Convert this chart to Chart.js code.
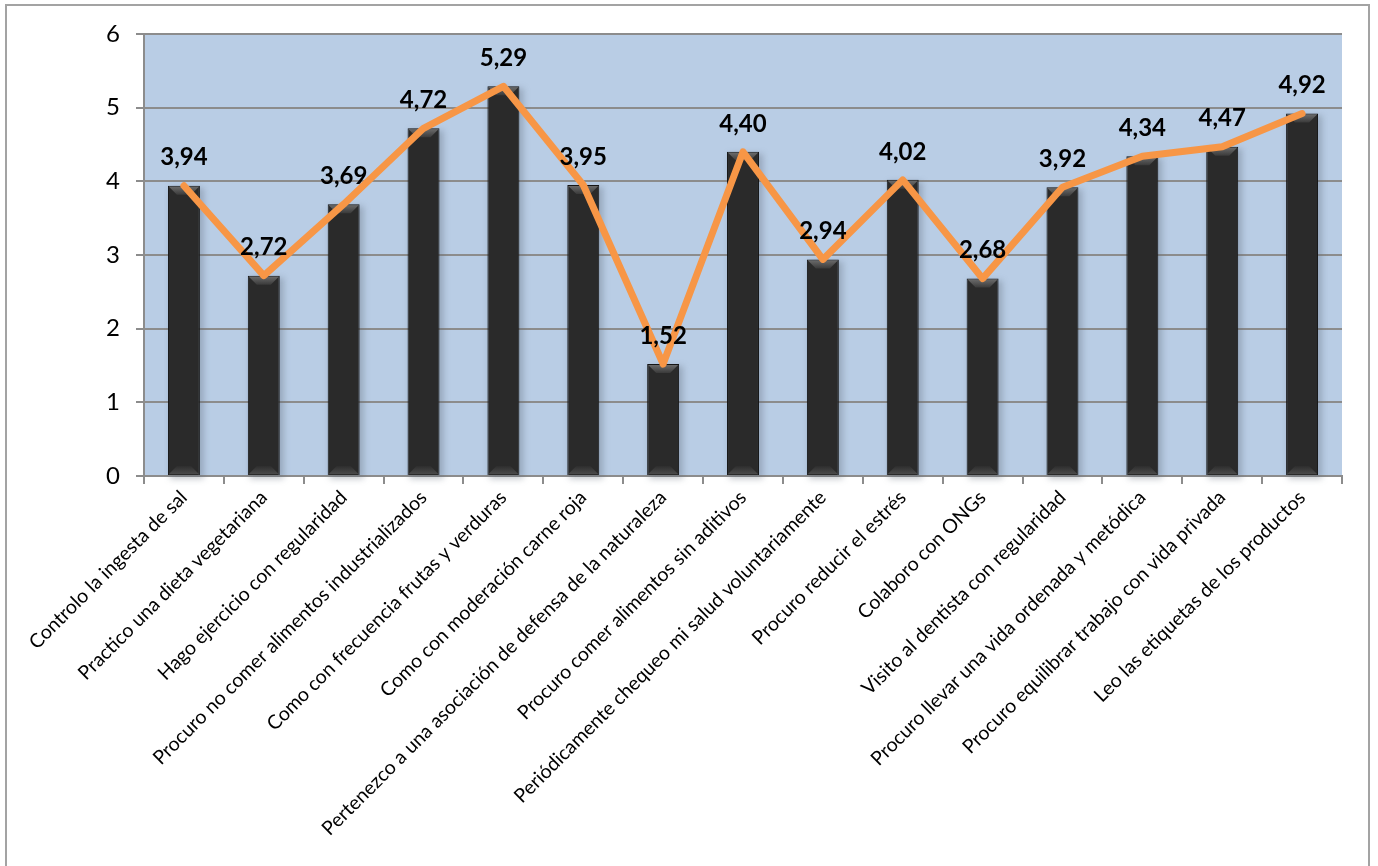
<!DOCTYPE html>
<html>
<head>
<meta charset="utf-8">
<script src="https://cdn.jsdelivr.net/npm/chart.js@4/dist/chart.umd.min.js"></script>
<style>
  html, body { margin: 0; padding: 0; background: #ffffff; overflow: hidden; }
  #wrap { position: relative; width: 1378px; height: 866px; }
  #frame { position: absolute; left: 5px; top: 4px; width: 1365px; height: 900px;
           border: 2px solid #a3a3a3; box-sizing: border-box; }
  #c { position: absolute; left: 0; top: 0; }
</style>
</head>
<body>
<div id="wrap">
  <div id="frame"></div>
  <canvas id="c" width="1378" height="866"></canvas>
</div>
<script>
const categories = [
  "Controlo la ingesta de sal",
  "Practico una dieta vegetariana",
  "Hago ejercicio con regularidad",
  "Procuro no comer alimentos industrializados",
  "Como con frecuencia frutas y verduras",
  "Como con moderación carne roja",
  "Pertenezco a una asociación de defensa de la naturaleza",
  "Procuro comer alimentos sin aditivos",
  "Periódicamente chequeo mi salud voluntariamente",
  "Procuro reducir el estrés",
  "Colaboro con ONGs",
  "Visito al dentista con regularidad",
  "Procuro llevar una vida ordenada y metódica",
  "Procuro equilibrar trabajo con vida privada",
  "Leo las etiquetas de los productos"
];
const barValues  = [3.94, 2.72, 3.69, 4.72, 5.29, 3.95, 1.52, 4.40, 2.94, 4.02, 2.68, 3.92, 4.34, 4.47, 4.92];
const lineValues = [3.94, 2.72, 3.69, 4.72, 5.29, 3.95, 1.52, 4.40, 2.94, 4.02, 2.68, 3.92, 4.34, 4.47, 4.92];
const yTicks = [0, 1, 2, 3, 4, 5, 6];

const fmt = v => v.toFixed(2).replace('.', ',');

// Blue plot-area background
const plotBackground = {
  id: 'plotBackground',
  beforeDraw(chart) {
    const { ctx, chartArea: a } = chart;
    ctx.save();
    ctx.fillStyle = '#b9cde5';
    ctx.fillRect(a.left, a.top, a.right - a.left, a.bottom - a.top);
    ctx.restore();
  }
};

// Soft drop shadow behind the columns and a bevel on their top/bottom edges
const barBevel = {
  id: 'barBevel',
  beforeDatasetDraw(chart, args) {
    if (args.meta.type !== 'bar') return;
    const ctx = chart.ctx;
    ctx.save();
    ctx.fillStyle = 'rgba(90,100,115,0.35)';
    ctx.filter = 'blur(3px)';
    args.meta.data.forEach(b => {
      const w = b.width;
      ctx.fillRect(b.x - w / 2 + 2, b.y + 2, w + 2, b.base - b.y + 2);
    });
    ctx.restore();
  },
  afterDatasetDraw(chart, args) {
    if (args.meta.type !== 'bar') return;
    const ctx = chart.ctx;
    ctx.save();
    args.meta.data.forEach(b => {
      const l = b.x - b.width / 2 + 1, r = b.x + b.width / 2 - 1, t = b.y + 1, bt = b.base - 1;
      const d = 8;
      // top bevel
      let g = ctx.createLinearGradient(0, t, 0, t + d);
      g.addColorStop(0, '#6a6a6a');
      g.addColorStop(1, '#3a3a3a');
      ctx.fillStyle = g;
      ctx.beginPath();
      ctx.moveTo(l, t); ctx.lineTo(r, t); ctx.lineTo(r - d, t + d); ctx.lineTo(l + d, t + d);
      ctx.closePath(); ctx.fill();
      // bottom bevel
      g = ctx.createLinearGradient(0, bt - d, 0, bt);
      g.addColorStop(0, '#2e2e2e');
      g.addColorStop(1, '#4a4a4a');
      ctx.fillStyle = g;
      ctx.beginPath();
      ctx.moveTo(l, bt); ctx.lineTo(r, bt); ctx.lineTo(r - d, bt - d); ctx.lineTo(l + d, bt - d);
      ctx.closePath(); ctx.fill();
    });
    ctx.restore();
  }
};

// Value labels above each point of the line
const valueLabels = {
  id: 'valueLabels',
  afterDatasetsDraw(chart) {
    const meta = chart.getDatasetMeta(1);
    const ctx = chart.ctx;
    ctx.save();
    ctx.font = 'bold 24px Lato, "Open Sans", sans-serif';
    ctx.fillStyle = '#000000';
    ctx.textAlign = 'center';
    ctx.textBaseline = 'middle';
    meta.data.forEach((p, i) => {
      ctx.fillText(fmt(chart.data.datasets[1].data[i]), p.x, p.y - 28);
    });
    ctx.restore();
  }
};

const ctx = document.getElementById('c').getContext('2d');
new Chart(ctx, {
  data: {
    labels: categories,
    datasets: [
      {
        type: 'bar',
        data: barValues,
        order: 1,
        barPercentage: 0.8,
        categoryPercentage: 0.5,
        borderWidth: 1,
        borderColor: '#151515',
        backgroundColor(c) {
          const el = c.element;
          const chart = c.chart;
          if (!el || !chart.chartArea || el.width === undefined) return '#2a2a2a';
          const l = el.x - el.width / 2, r = el.x + el.width / 2;
          const g = chart.ctx.createLinearGradient(l, 0, r, 0);
          g.addColorStop(0, '#151515');
          g.addColorStop(0.15, '#272727');
          g.addColorStop(0.5, '#2e2e2e');
          g.addColorStop(0.85, '#262626');
          g.addColorStop(1, '#121212');
          return g;
        }
      },
      {
        type: 'line',
        data: lineValues,
        order: 0,
        borderColor: '#f79646',
        borderWidth: 7,
        borderCapStyle: 'round',
        borderJoinStyle: 'round',
        tension: 0,
        pointRadius: 0,
        pointHoverRadius: 0,
        fill: false
      }
    ]
  },
  options: {
    responsive: false,
    animation: false,
    devicePixelRatio: 1,
    layout: { padding: { top: 34, right: 36, left: 0, bottom: 0 } },
    plugins: { legend: { display: false }, tooltip: { enabled: false } },
    scales: {
      x: {
        offset: true,
        grid: { offset: true, drawOnChartArea: false, drawTicks: true, tickLength: 8, color: '#8c8c8c', lineWidth: 2 },
        border: { display: true, color: '#8c8c8c', width: 2 },
        ticks: {
          autoSkip: false, maxRotation: 45, minRotation: 45, padding: 2,
          color: '#000000',
          font: { family: 'Lato, "Open Sans", sans-serif', size: 19.5 }
        },
        afterFit(scale) { scale.height = 866 - 476; }
      },
      y: {
        min: 0, max: 6,
        afterBuildTicks(scale) { scale.ticks = yTicks.map(v => ({ value: v })); },
        grid: { color: '#8c8c8c', lineWidth: 2, drawTicks: true, tickLength: 8 },
        border: { display: true, color: '#8c8c8c', width: 2 },
        ticks: {
          padding: 16, color: '#000000',
          font: { family: 'Lato, "Open Sans", sans-serif', size: 24 }
        },
        afterFit(scale) { scale.width = 144; }
      }
    }
  },
  plugins: [plotBackground, barBevel, valueLabels]
});
</script>
</body>
</html>
